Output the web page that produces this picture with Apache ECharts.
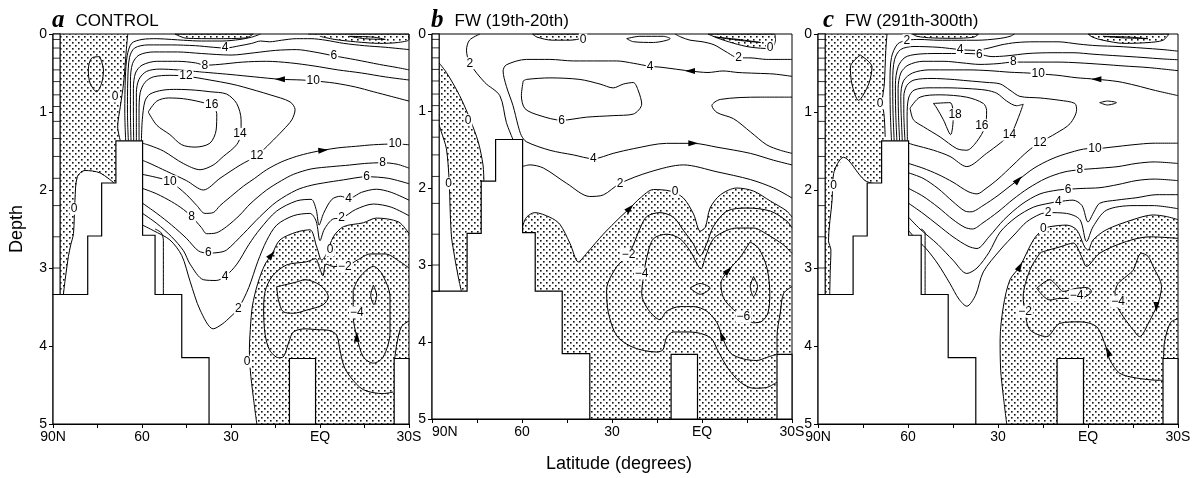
<!DOCTYPE html>
<html>
<head>
<meta charset="utf-8">
<script src="https://cdn.jsdelivr.net/npm/echarts@6/dist/echarts.min.js"></script>
<style>
  html, body { margin: 0; padding: 0; background: #fff; }
  #chart { width: 1198px; height: 478px; }
</style>
</head>
<body>
<div id="chart"></div>
<script>
// axis ticks
var latTickValues = [90, 60, 30, 0, -30];
var latTickNames = ['90N', '60', '30', 'EQ', '30S'];

// model topography (lat, depth) - same grid in all three runs
var topoMain = [[90,5],[90,3.34],[78.3,3.34],[78.3,2.59],[73.6,2.59],[73.6,1.91],[68.8,1.91],[68.8,1.37],[59.8,1.37],[59.8,2.58],[55.6,2.58],[55.6,3.34],[46.6,3.34],[46.6,4.15],[37.4,4.15],[37.4,5]];
var topoMid = [[10.3,5],[10.3,4.16],[1.5,4.16],[1.5,5]];
var topoRight = [[-25,5],[-25,4.16],[-30,4.16],[-30,5]];
var stripBox = [[90,0],[87.6,0],[87.6,3.34],[90,3.34]];
var stripLevels = [0.07,0.18,0.31,0.46,0.61,0.78,0.93,1.12,1.34,1.57,1.85,2.2,2.6,3.0];

// ---------- a  CONTROL ----------
var aZeroLeftA = [[64.8,0],[65.3,0.21],[66.2,0.63],[67.3,0.93],[68.2,1.19],[67.3,1.37]];
var aZeroLeftB = [[69.1,1.92],[74.2,1.78],[79.2,1.75],[81.8,1.83],[82.6,2.13],[83.1,2.56],[84.0,2.7],[84.8,2.85],[85.9,3.15],[86.5,3.34]];
var aTop1 = [[48.9,0],[22.5,0],[25,0.05],[35,0.06],[45,0.055]];
var aTop2 = [[4,0],[-30,0],[-30,0.07],[-26,0.11],[-20,0.12],[-12,0.1],[-5,0.07],[0,0.03]];
var aZeroDeep = [[21.3,5],[22.5,4.65],[23.5,4.31],[23.8,4.05],[23.5,3.79],[22.8,3.49],[21,3.2],[18.5,2.95],[16.3,2.83],[13.5,2.64],[7.9,2.54],[3.4,2.51],[1.1,2.73],[-0.6,2.9],[-2.3,2.81],[-4.5,2.6],[-7.9,2.47],[-14.6,2.42],[-19,2.36],[-26.5,2.41],[-30,2.56]];
var aC2 = [[65.5,1.37],[65.8,1.0],[65.6,0.55],[65,0.28],[63.5,0.12],[60,0.07],[55,0.06],[50,0.07],[46,0.08],[40,0.09],[33,0.09],[27,0.07],[23,0.04],[20,0]];
var aC4 = [[64.6,1.37],[64.9,1.0],[64.8,0.6],[64.2,0.3],[62.5,0.18],[58,0.14],[50,0.14],[42,0.15],[36,0.17],[32,0.18],[27,0.15],[23,0.12],[20,0.09],[17,0.1],[13,0.08],[8,0.06],[3,0.06],[-2,0.08],[-8,0.12],[-15,0.15],[-22,0.17],[-30,0.2]];
var aC6 = [[63.7,1.37],[63.9,1.0],[63.9,0.6],[63.2,0.38],[61,0.27],[56,0.23],[48,0.23],[40,0.25],[30,0.27],[22,0.24],[15,0.21],[8,0.2],[2,0.23],[-4.7,0.28],[-12,0.33],[-20,0.39],[-26,0.43],[-30,0.46]];
var aC8 = [[62.8,1.37],[62.9,1.0],[62.9,0.7],[62.2,0.5],[60,0.4],[55,0.35],[48,0.35],[42,0.37],[38.8,0.4],[34,0.39],[26,0.36],[18,0.35],[10,0.37],[2,0.41],[-6,0.46],[-14,0.5],[-22,0.55],[-30,0.59]];
var aC10 = [[61.9,1.37],[61.9,1.0],[61.9,0.75],[61,0.58],[58.5,0.48],[54,0.45],[48,0.46],[42,0.48],[36,0.5],[30,0.52],[22,0.55],[13.5,0.58],[6,0.59],[2.3,0.6],[-5,0.63],[-12,0.68],[-18,0.74],[-24,0.8],[-30,0.86]];
var aC12 = [[61.0,1.37],[61.0,1.0],[60.6,0.75],[59,0.62],[56.2,0.55],[50.6,0.53],[45.2,0.54],[37.1,0.59],[30,0.64],[25.8,0.68],[16.8,0.78],[10.1,0.87],[8.4,0.97],[9.5,1.1],[12.4,1.23],[16.8,1.4],[21.3,1.56],[26.9,1.68],[33.7,1.85],[39.3,2.0],[45,1.88],[51.7,1.76],[57.3,1.66],[59.8,1.62]];
var aC14 = [[60.2,1.37],[59.9,1.1],[59,0.86],[57.3,0.77],[53,0.72],[48.3,0.71],[42,0.72],[37.1,0.74],[31.5,0.77],[28.1,0.89],[26.6,1.1],[26.6,1.27],[28.1,1.42],[32.6,1.57],[36,1.68],[40.4,1.74],[46.1,1.66],[52.8,1.5],[57.3,1.43],[59.8,1.4]];
var aC16 = [[57.9,1.0],[55,0.86],[51,0.82],[46,0.83],[40.4,0.87],[36.5,0.92],[34.8,1.02],[35,1.23],[37.1,1.4],[42.1,1.45],[46.6,1.42],[50.6,1.29],[55,1.17],[57.9,1.0]];
var aC10low = [[59.8,1.8],[55,1.84],[50.6,1.89],[45,2.06],[41.5,2.2],[38.8,2.3],[36,2.29],[33.7,2.2],[29,2.05],[25.8,1.95],[22,1.85],[18,1.74],[13,1.64],[8,1.57],[3,1.52],[-1.1,1.49],[-6,1.46],[-12,1.44],[-18,1.42],[-25.3,1.41],[-30,1.42]];
var aC8low = [[59.8,1.98],[55,2.05],[50,2.15],[46,2.25],[43.3,2.34],[40,2.48],[38.2,2.56],[35,2.55],[31.5,2.47],[27,2.32],[23.6,2.18],[18,2.0],[13,1.88],[9,1.8],[3,1.73],[-4,1.7],[-10,1.68],[-15,1.66],[-21.1,1.65],[-26,1.67],[-30,1.72]];
var aC6low = [[59.8,2.17],[55,2.3],[50,2.45],[45,2.62],[41,2.78],[37.6,2.81],[34,2.8],[31.5,2.77],[25.8,2.56],[20.2,2.34],[14.6,2.15],[7.9,2.0],[3,1.94],[-1.1,1.91],[-7.9,1.87],[-15.7,1.83],[-23,1.85],[-30,1.92]];
var aC4low = [[59.8,2.3],[55,2.43],[50,2.6],[46,2.78],[43.8,2.95],[39.3,3.15],[35,3.16],[32,3.11],[28,2.95],[24,2.7],[20.2,2.5],[14.6,2.27],[7.9,2.14],[3,2.12],[1.3,2.25],[0.3,2.45],[-1.2,2.3],[-4,2.12],[-7,2.08],[-9.6,2.11],[-14,2.03],[-19,1.99],[-24,2.03],[-30,2.13]];
var aC2low = [[59.8,2.45],[56.2,2.52],[50.6,2.64],[46.6,2.84],[43.8,3.17],[40.4,3.54],[36,3.78],[33,3.72],[30,3.62],[27.5,3.52],[24,3.25],[21,2.92],[18,2.65],[14.6,2.45],[9,2.33],[3.4,2.3],[1.3,2.4],[0,2.65],[-1.5,2.5],[-4.5,2.37],[-7.3,2.36],[-12,2.25],[-18,2.18],[-24,2.22],[-30,2.33]];
var aHug = [[55.6,2.5],[53.5,2.55],[52.8,2.65],[52.8,3.34]];
var aOval = [[74.2,0.29],[73.0,0.46],[73.6,0.63],[75.3,0.74],[77.5,0.63],[78.1,0.46],[77.0,0.31],[74.2,0.29]];
var aLens = [[-10,0.03],[-15,0.06],[-22,0.07],[-18,0.04],[-10,0.03]];
var aM2 = [[-30,3.0],[-27,2.92],[-22,2.82],[-17,2.82],[-12.5,2.9],[-8.4,2.98],[-4.5,2.98],[-2,2.95],[-1,3.1],[0.3,2.98],[1.5,2.88],[4.5,2.92],[11.2,2.96],[16,3.1],[18.5,3.3],[19,3.55],[18.5,3.85],[17,4.05],[14,4.15],[12.4,4.14],[10.5,3.95],[9,3.82],[5,3.78],[1.1,3.79],[-3,3.8],[-5.6,3.86],[-6.7,4.05],[-8,4.25],[-10.1,4.39],[-14.6,4.56],[-21.3,4.61],[-24.7,4.59]];
var aM4a = [[14.6,3.24],[7.9,3.18],[5.1,3.15],[0,3.22],[-2.8,3.37],[-1.1,3.47],[4.5,3.54],[9.0,3.58],[12.4,3.56],[14.0,3.41],[14.6,3.24]];
var aM4b = [[-11.2,3.28],[-13.5,3.11],[-18,2.98],[-20.8,3.07],[-23.6,3.37],[-23.6,3.83],[-21.3,4.14],[-18,4.22],[-14.6,4.14],[-12.4,3.88],[-11.2,3.62],[-11.2,3.28]];
var aM6 = [[-18,3.22],[-19.1,3.35],[-18.2,3.47],[-17.1,3.35],[-18,3.22]];
var aEdge = [[-30,3.68],[-27.5,3.75],[-26,3.95],[-25.2,4.16]];
var aLabels = [['4',32.0,0.18],['6',-4.7,0.28],['8',38.8,0.40],['10',2.3,0.60],['12',45.2,0.54],['16',36.5,0.91],['14',27.0,1.28],['12',21.3,1.56],['10',-25.3,1.41],['8',-21.1,1.65],['6',-15.7,1.83],['4',-9.6,2.11],['2',-7.3,2.36],['10',50.6,1.89],['8',43.3,2.34],['6',37.6,2.81],['4',32.0,3.11],['2',27.5,3.52],['0',69.1,0.80],['0',82.9,2.24],['0',-3.4,2.77],['\u22122',-8.4,2.98],['\u22124',-12.4,3.57],['0',24.6,4.2]];
var aArrows = [[13.5,0.58,90],[-1.1,1.49,-85],[16.3,2.83,-40],[-12.4,3.88,0]];

// ---------- b  FW (19th-20th) ----------
var bZeroLeftOuter = [[88.6,0.33],[85.2,0.5],[80.8,0.8],[77.4,1.1],[74.6,1.4],[73.0,1.7],[72.7,1.91]];
var bZeroLeftInner = [[88.6,1.06],[86.9,1.27],[85.2,1.49],[84.3,1.89],[83.9,2.34],[83.5,2.64],[83.0,2.77],[81.9,3.02],[80.8,3.24],[80.2,3.34]];
var bTop1 = [[56.5,0],[38,0],[39.6,0.05],[44,0.08],[50,0.08],[55,0.04]];
var bTop2 = [[-2,0],[-24,0],[-24.5,0.08],[-22.7,0.19],[-16,0.17],[-10.5,0.12],[-5,0.05]];
var bZeroDeep = [[59.8,2.5],[58.5,2.38],[55.7,2.32],[50.7,2.38],[47.4,2.47],[44,2.72],[41.2,2.96],[38.5,2.85],[32.9,2.6],[27.3,2.38],[24,2.26],[20.6,2.13],[16.2,2.02],[10.6,2.04],[6.2,2.13],[2.8,2.34],[0.6,2.56],[-1.1,2.51],[-2.7,2.26],[-6.1,2.09],[-11.6,2.0],[-17.2,2.04],[-22.8,2.17],[-28.3,2.3],[-30,2.38]];
var bLensTop = [[25.1,0.06],[20.7,0.03],[12.9,0.03],[10.6,0.06],[16.2,0.11],[22.9,0.1],[25.1,0.06]];
var bLensPatch = [[-4.5,0.04],[-12,0.07],[-19.5,0.11],[-14,0.09],[-4.5,0.04]];
var bC2up = [[74,0],[77.5,0.08],[78.5,0.21],[77.4,0.38],[72.4,0.63],[67.4,0.8],[65.2,1.15],[63,1.37]];
var bC2right = [[-30,0.33],[-21.6,0.33],[-16,0.31],[-12.2,0.31],[-8,0.23],[-4,0.14],[0,0.1],[4,0.08],[7,0.04],[9,0]];
var bC4 = [[-30,0.55],[-24,0.52],[-18,0.51],[-12,0.5],[-7,0.48],[-2,0.5],[4,0.48],[10,0.45],[14,0.43],[17.3,0.42],[22.9,0.38],[28.4,0.35],[34,0.35],[42.9,0.35],[50.7,0.33],[58.5,0.33],[65.2,0.4],[66.3,0.48],[65.2,0.68],[63,0.93],[61.3,1.19],[60.2,1.32],[58.5,1.4],[50.7,1.51],[42.9,1.57],[36.2,1.62],[29.6,1.55],[22.9,1.49],[11.8,1.42],[2.9,1.42],[-5,1.47],[-16.1,1.55],[-23.9,1.64],[-30,1.7]];
var bC6 = [[59.6,0.61],[58.5,0.59],[50.7,0.57],[40.7,0.59],[34,0.65],[29.6,0.7],[26.2,0.65],[22.9,0.63],[21.2,0.74],[20.1,0.91],[22.9,1.04],[29.6,1.06],[38.5,1.08],[46.8,1.12],[54,1.06],[59,0.97],[60.2,0.8],[59.6,0.61]];
var bC6lobe = [[-30,0.82],[-19.4,0.82],[-6.1,0.85],[-3.3,0.93],[-5,1.02],[-10.5,1.1],[-16.1,1.27],[-21.6,1.44],[-26.1,1.51],[-30,1.55]];
var bC2low = [[59.8,1.72],[57.4,1.70],[52.9,1.74],[45.1,1.94],[37.4,2.11],[32.9,2.09],[27.3,1.94],[17.3,1.79],[6.2,1.70],[-5,1.79],[-16.1,1.89],[-23.9,2.0],[-30,2.13]];
var bM2 = [[-25,4.52],[-21.6,4.59],[-17.2,4.6],[-12.7,4.52],[-8.8,4.35],[-5.5,4.13],[-2.7,3.94],[4,3.87],[9.5,3.87],[11.8,3.94],[13,4.1],[15.1,4.13],[22.9,4.07],[28.4,3.92],[31.2,3.62],[31.8,3.32],[28.4,3.02],[24.5,2.87],[22.9,2.74],[20.6,2.52],[18.4,2.37],[14,2.32],[9.5,2.38],[6.2,2.55],[3,2.72],[0.6,2.88],[-1.6,2.72],[-3.8,2.5],[-8.3,2.3],[-15,2.26],[-22.8,2.3],[-28.3,2.43],[-30,2.52]];
var bM4 = [[-30,2.85],[-27.2,2.74],[-21.6,2.6],[-17.2,2.52],[-11.6,2.52],[-8.3,2.55],[-3.8,2.66],[-1.1,2.9],[0.3,3.05],[3.9,2.82],[7.3,2.66],[11.7,2.6],[16.2,2.66],[18.4,2.9],[19.5,3.15],[20.1,3.37],[17.9,3.58],[14,3.71],[11.8,3.6],[7.3,3.54],[2.9,3.54],[-1.6,3.6],[-5,3.75],[-6.6,3.92],[-9.4,4.14],[-13.8,4.22],[-18.3,4.24],[-21.6,4.2],[-24.8,4.16]];
var bM6 = [[-16,2.7],[-18.8,2.78],[-21.6,3.03],[-22.6,3.37],[-22,3.62],[-20,3.73],[-17.2,3.75],[-13.8,3.67],[-10.5,3.58],[-7.2,3.43],[-6.3,3.24],[-8.8,3.07],[-12.7,2.9],[-16,2.7]];
var bLensEq = [[4,3.3],[0.6,3.24],[-2.7,3.3],[0.6,3.38],[4,3.3]];
var bLens6 = [[-17.2,3.15],[-18.5,3.28],[-17.2,3.41],[-16.1,3.28],[-17.2,3.15]];
var bEdge = [[-30,3.28],[-27.2,3.37],[-26.1,3.62],[-25,3.93],[-25,4.16]];
var bLabels = [['0',39.6,0.07],['0',-22.7,0.18],['2',77.4,0.38],['2',-12.2,0.31],['4',17.3,0.42],['6',46.8,1.12],['0',78,1.12],['0',84.5,1.94],['4',36.2,1.62],['2',27.3,1.94],['0',9,2.05],['\u22122',24.5,2.87],['\u22124',20.1,3.11],['\u22126',-13.8,3.67]];
var bArrows = [[4,0.48,90],[2.9,1.42,-90],[24,2.26,-45],[-8.8,3.07,-45],[-6.6,3.92,20]];

// ---------- c  FW (291th-300th) ----------
var cZeroLeftA = [[67,0],[67.4,0.21],[67.9,0.64],[68.5,0.85],[67.9,1.07],[67.6,1.32]];
var cZeroLeftB = [[69.1,1.93],[74.3,1.88],[81.5,1.58],[84.8,1.79],[85.3,2.13],[86.5,2.65],[85.7,2.77],[85.9,3.03],[86.1,3.34]];
var cOval = [[75.9,0.27],[72,0.42],[73.1,0.64],[76.5,0.85],[78.7,0.64],[79.2,0.42],[75.9,0.27]];
var cTop1 = [[58.5,0],[36.5,0],[38,0.04],[45,0.055],[52,0.05],[57,0.03]];
var cTop2 = [[0,0],[-27,0],[-25,0.08],[-20,0.11],[-12,0.12],[-5,0.08],[-1.5,0.04]];
var cLensTop = [[-5,0.03],[-12,0.05],[-20,0.06],[-14,0.04],[-5,0.03]];
var cZeroDeep = [[27.1,5],[28.2,4.65],[29.1,4.31],[29.3,3.92],[28.2,3.49],[26,3.15],[22.7,2.98],[18.2,2.64],[14.9,2.5],[12.7,2.47],[7.2,2.45],[3.8,2.51],[1.1,2.73],[0,2.77],[-1.7,2.64],[-6.1,2.51],[-15,2.38],[-21.7,2.32],[-26.1,2.34],[-30,2.38]];
var cC2 = [[65.5,1.37],[65.9,1.0],[66,0.6],[65.5,0.3],[63.5,0.13],[60.4,0.08],[56,0.07],[50,0.08],[44,0.08],[37,0.08],[30,0.06],[26,0.03],[24.5,0]];
var cC4 = [[64.6,1.37],[65,1.0],[65.1,0.6],[64.5,0.33],[62.5,0.2],[58,0.16],[50,0.17],[45,0.19],[42.6,0.2],[38,0.21],[33,0.18],[29,0.14],[24,0.11],[18,0.1],[10,0.1],[3,0.13],[-3,0.15],[-10,0.16],[-18,0.18],[-25,0.2],[-30,0.22]];
var cC6 = [[63.7,1.37],[64.1,1.0],[64.2,0.65],[63.3,0.42],[61,0.3],[57,0.26],[50,0.25],[44,0.25],[40,0.25],[36.2,0.26],[32,0.29],[27,0.28],[20,0.25],[12,0.24],[5,0.24],[-2,0.26],[-10,0.28],[-18,0.3],[-25,0.32],[-30,0.33]];
var cC8 = [[62.8,1.37],[63.2,1.0],[63.3,0.7],[62.4,0.5],[60,0.4],[55,0.35],[48,0.35],[42,0.37],[36,0.39],[30,0.38],[24.9,0.36],[18,0.36],[10,0.36],[3,0.37],[-5,0.39],[-12,0.41],[-20,0.43],[-30,0.47]];
var cC10 = [[61.9,1.37],[62.3,1.0],[62.4,0.8],[61.5,0.6],[58.5,0.5],[53,0.46],[46,0.46],[40,0.46],[33,0.47],[26,0.49],[20,0.5],[16.6,0.51],[10,0.53],[4,0.56],[-2.8,0.58],[-10,0.61],[-16,0.66],[-22,0.72],[-30,0.79]];
var cC12 = [[61.0,1.37],[61.4,1.0],[61.4,0.8],[60.4,0.66],[58,0.59],[52,0.57],[46,0.58],[40,0.6],[34,0.62],[29.3,0.64],[26,0.72],[22.7,0.8],[16,0.82],[9.4,0.85],[4.4,0.89],[3.8,0.97],[6,1.15],[10.5,1.27],[16,1.39],[20,1.5],[25,1.68],[30,1.86],[34,1.98],[37,2.05],[40,2.02],[45,1.9],[50,1.8],[55,1.72],[59.8,1.66]];
var cC14 = [[60.2,1.37],[60.3,1.05],[59.8,0.82],[58,0.72],[53,0.69],[47,0.69],[40,0.7],[34,0.72],[30.4,0.76],[27.1,0.86],[23.8,0.92],[21.6,0.9],[22.7,1.02],[24.9,1.23],[26.2,1.3],[29.3,1.4],[33.8,1.53],[40.4,1.7],[46,1.57],[51.5,1.49],[58.2,1.42],[59.8,1.4]];
var cC16 = [[59.3,0.95],[56,0.81],[49.3,0.78],[40.4,0.81],[34.9,0.89],[33.8,0.98],[34.3,1.19],[37.1,1.38],[40.4,1.49],[43.7,1.47],[49.3,1.32],[54.8,1.19],[58.2,1.1],[59.3,0.95]];
var cC18 = [[51.5,0.89],[46,0.88],[44.9,1.06],[45.8,1.29],[48.2,1.1],[50.4,0.95],[51.5,0.89]];
var cLensMid = [[-3.9,0.88],[-6.5,0.86],[-9.5,0.88],[-6.5,0.91],[-3.9,0.88]];
var cC10low = [[59.8,1.78],[55,1.85],[50,1.98],[45,2.15],[41,2.27],[39,2.28],[35,2.2],[30,2.07],[26,1.95],[23.2,1.87],[18,1.72],[12,1.6],[6,1.52],[0,1.47],[-2.3,1.47],[-8,1.45],[-15,1.42],[-22,1.4],[-30,1.4]];
var cC8low = [[59.8,1.98],[55,2.08],[50,2.22],[45,2.38],[41,2.48],[38.5,2.5],[35,2.42],[30,2.28],[25,2.12],[20,1.98],[14,1.85],[8,1.77],[2.7,1.74],[-4,1.72],[-10,1.7],[-16,1.66],[-22,1.64],[-30,1.66]];
var cC6low = [[59.8,2.17],[55,2.3],[50,2.45],[45,2.6],[40,2.72],[37,2.75],[33,2.6],[28,2.38],[22,2.18],[16,2.05],[10,2.0],[6.6,1.99],[2,1.98],[-4,1.97],[-10,1.93],[-16,1.88],[-22,1.86],[-30,1.88]];
var cC4low = [[59.8,2.35],[56,2.5],[50,2.7],[45,2.9],[40.4,3.07],[37,3.0],[33,2.8],[29.3,2.54],[24,2.35],[18.2,2.22],[13,2.17],[9.9,2.15],[5,2.13],[2,2.2],[0,2.41],[-2,2.28],[-3.9,2.17],[-9.5,2.13],[-16,2.1],[-23,2.06],[-30,2.06]];
var cC2low = [[59.8,2.52],[58,2.6],[54,2.75],[50,2.95],[46,3.2],[43,3.4],[40.4,3.49],[37.5,3.35],[34.9,3.05],[29.3,2.77],[24,2.55],[20.5,2.41],[16,2.31],[13.3,2.29],[7.2,2.3],[2.7,2.38],[0.5,2.66],[-1.7,2.47],[-6.1,2.26],[-15,2.2],[-21.7,2.2],[-30,2.24]];
var cHug = [[55.6,2.5],[54.3,2.55],[54.3,3.34]];
var cM2 = [[-30,2.62],[-20.6,2.6],[-12.8,2.66],[-3.9,2.81],[0.5,2.98],[2.2,2.85],[4.9,2.68],[9.4,2.73],[14.9,2.79],[16,2.81],[19.4,3.03],[21.6,3.37],[21,3.56],[19.4,3.79],[13.8,3.88],[9.4,3.71],[2.7,3.69],[-2.8,3.75],[-5.6,3.97],[-7.3,4.18],[-10.6,4.35],[-16.1,4.41],[-23.9,4.44],[-25,4.44]];
var cM4a = [[17.1,3.26],[12.7,3.15],[10.5,3.22],[8.3,3.3],[3.8,3.26],[0.5,3.25],[-1.2,3.3],[1.0,3.37],[3.8,3.39],[9.4,3.39],[12.7,3.41],[14.9,3.36],[17.1,3.26]];
var cM4b = [[-9,3.3],[-10,3.2],[-13,3.1],[-15,3.03],[-17.8,2.81],[-20,2.85],[-21.7,2.98],[-24.5,3.24],[-23.8,3.4],[-22.8,3.5],[-20.5,3.68],[-17.2,3.88],[-15,3.79],[-11.7,3.62],[-9.5,3.47],[-9,3.3]];
var cEdge = [[-30,3.65],[-27.5,3.7],[-25.5,3.95],[-25.2,4.16]];
var cLabels = [['2',60.4,0.08],['4',42.6,0.2],['6',36.2,0.26],['8',24.9,0.36],['10',16.6,0.51],['0',69.3,0.89],['0',84.8,1.94],['18',44.3,1.03],['16',35.4,1.17],['14',26.2,1.29],['12',16,1.39],['10',-2.3,1.47],['8',2.7,1.74],['6',6.6,1.99],['4',9.9,2.15],['2',13.3,2.29],['0',14.9,2.49],['\u22124',3.8,3.35],['\u22124',-10,3.43],['\u22122',21,3.56]];
var cArrows = [[-2.8,0.58,90],[23.2,1.87,-45],[22.7,2.98,-30],[-22.8,3.5,180],[-6.7,4.07,20]];

// stipple pattern for negative streamfunction
var tile = document.createElement('canvas');
tile.width = 6; tile.height = 6;
var tctx = tile.getContext('2d');
tctx.fillStyle = '#111';
tctx.fillRect(0, 0, 1.6, 1.6);
tctx.fillRect(3, 3, 1.6, 1.6);
var dots = {image: tile, repeat: 'repeat'};

var panels = [
  {
    stipple: [[[87.6,0]].concat(aZeroLeftA, [[66,1.6]], aZeroLeftB, [[87.6,3.34]]), aTop1, aTop2, aZeroDeep.concat([[-30,5]])],
    lines: [aZeroLeftA, aZeroLeftB, aTop1.concat([aTop1[0]]), aTop2, aZeroDeep, aC2, aC4, aC6, aC8, aC10, aC12, aC14, aC16,
            aC10low, aC8low, aC6low, aC4low, aC2low, aHug, aOval, aLens, aM2, aM4a, aM4b, aM6, aEdge],
    labels: aLabels, arrows: aArrows
  },
  {
    stipple: [bZeroLeftOuter.concat([[70,2.0],[70,3.4]], bZeroLeftInner.slice().reverse()), bTop1, bTop2, bZeroDeep.concat([[-30,5],[62,5],[62,2.5]])],
    lines: [bZeroLeftOuter, bZeroLeftInner, bTop1.concat([bTop1[0]]), bTop2.concat([bTop2[0]]), bZeroDeep, bLensTop, bLensPatch,
            bC2up, bC2right, bC4, bC6, bC6lobe, bC2low, bM2, bM4, bM6, bLensEq, bLens6, bEdge],
    labels: bLabels, arrows: bArrows
  },
  {
    stipple: [[[88.1,0]].concat(cZeroLeftA, [[67.5,1.6]], cZeroLeftB, [[88.1,3.34]]), cTop1, cTop2, cZeroDeep.concat([[-30,5]])],
    lines: [cZeroLeftA, cZeroLeftB, cOval, cTop1.concat([cTop1[0]]), cTop2.concat([cTop2[0]]), cLensTop, cZeroDeep,
            cC2, cC4, cC6, cC8, cC10, cC12, cC14, cC16, cC18, cLensMid, cC10low, cC8low, cC6low, cC4low, cC2low, cHug,
            cM2, cM4a, cM4b, cEdge],
    labels: cLabels, arrows: cArrows
  }
];

var gridLefts = [53, 432, 818];
var gridWidths = [356, 360, 360];
var titles = [['a', 'CONTROL'], ['b', 'FW (19th-20th)'], ['c', 'FW (291th-300th)']];

function latLabel(v) {
  var k = latTickValues.indexOf(v);
  return k < 0 ? '' : latTickNames[k];
}

function polySeries(list, gi, style, z) {
  return {
    type: 'custom', xAxisIndex: gi, yAxisIndex: gi, silent: true, z: z,
    data: list.map(function (p, k) { return [p[0][0], p[0][1], k]; }),
    renderItem: function (params, api) {
      var pts = list[params.dataIndex].map(function (q) { return api.coord(q); });
      return {type: 'polygon', shape: {points: pts}, style: style};
    }
  };
}

var grid = [], xAxis = [], yAxis = [], series = [], title = [];

panels.forEach(function (pn, gi) {
  grid.push({left: gridLefts[gi], top: 34, width: gridWidths[gi], height: 390,
             show: true, borderColor: '#000', borderWidth: 1});
  xAxis.push({
    type: 'value', gridIndex: gi, min: -30, max: 90, interval: 15, inverse: true,
    axisLine: {onZero: false, lineStyle: {color: '#000', width: 1}},
    axisTick: {length: 4, lineStyle: {color: '#000'}},
    axisLabel: {formatter: latLabel, color: '#000', fontSize: 14, margin: 6,
                alignMaxLabel: gi === 1 ? 'left' : null},
    splitLine: {show: false},
    name: gi === 1 ? 'Latitude (degrees)' : '',
    nameLocation: 'middle', nameGap: 36,
    nameTextStyle: {color: '#000', fontSize: 18, padding: [0, 0, 0, 14]}
  });
  yAxis.push({
    type: 'value', gridIndex: gi, min: 0, max: 5, interval: 1, inverse: true,
    axisLine: {onZero: false, lineStyle: {color: '#000', width: 1}},
    axisTick: {length: 4, lineStyle: {color: '#000'}},
    axisLabel: {color: '#000', fontSize: 14, margin: 6},
    splitLine: {show: false},
    name: gi === 0 ? 'Depth' : '',
    nameLocation: 'middle', nameGap: 27,
    nameTextStyle: {color: '#000', fontSize: 18}
  });
  title.push({
    text: '{i|' + titles[gi][0] + '}{t|' + titles[gi][1] + '}',
    left: gridLefts[gi] - 1 + (gi === 2 ? 6 : 0), top: 8,
    padding: 0,
    textStyle: {
      fontWeight: 'normal',
      rich: {
        i: {fontFamily: 'Liberation Serif', fontStyle: 'italic', fontWeight: 'bold', fontSize: 25, color: '#000', padding: [0, 0, 2, 0]},
        t: {fontFamily: 'Liberation Sans', fontWeight: 'normal', fontSize: 17, color: '#000', padding: [0, 0, 0, 11]}
      }
    }
  });

  series.push(polySeries(pn.stipple, gi, {fill: dots}, 1));

  pn.lines.forEach(function (pts) {
    series.push({
      type: 'line', xAxisIndex: gi, yAxisIndex: gi, data: pts,
      symbol: 'none', smooth: 0.3, silent: true, z: 3,
      lineStyle: {color: '#000', width: 1}
    });
  });

  series.push(polySeries([topoMain, topoMid, topoRight, stripBox], gi,
                         {fill: '#fff', stroke: '#000', lineWidth: 1.2}, 5));

  series.push({
    type: 'custom', xAxisIndex: gi, yAxisIndex: gi, silent: true, z: 6,
    data: stripLevels.map(function (d) { return [88.8, d]; }),
    renderItem: function (params, api) {
      var d = api.value(1);
      var p1 = api.coord([90, d]), p2 = api.coord([87.6, d]);
      return {type: 'line', shape: {x1: p1[0], y1: p1[1], x2: p2[0], y2: p2[1]},
              style: {stroke: '#000', lineWidth: 0.8}};
    }
  });

  series.push({
    type: 'scatter', xAxisIndex: gi, yAxisIndex: gi, symbolSize: 0, silent: true, z: 8,
    itemStyle: {opacity: 1},
    data: pn.labels.map(function (l) { return {name: l[0], value: [l[1], l[2]]}; }),
    label: {show: true, position: 'inside', formatter: '{b}', color: '#000', opacity: 1, fontSize: 12,
            backgroundColor: '#fff', padding: [0, 1]}
  });

  series.push({
    type: 'scatter', xAxisIndex: gi, yAxisIndex: gi, symbol: 'triangle', symbolSize: [6, 10],
    silent: true, z: 8, itemStyle: {color: '#000', opacity: 1},
    data: pn.arrows.map(function (a) { return {value: [a[0], a[1]], symbolRotate: a[2]}; })
  });
});

var chart = echarts.init(document.getElementById('chart'));
chart.setOption({
  animation: false,
  backgroundColor: '#fff',
  textStyle: {fontFamily: 'Liberation Sans'},
  title: title,
  grid: grid,
  xAxis: xAxis,
  yAxis: yAxis,
  series: series
});
window.onresize = function () { chart.resize(); };
</script>
</body>
</html>
